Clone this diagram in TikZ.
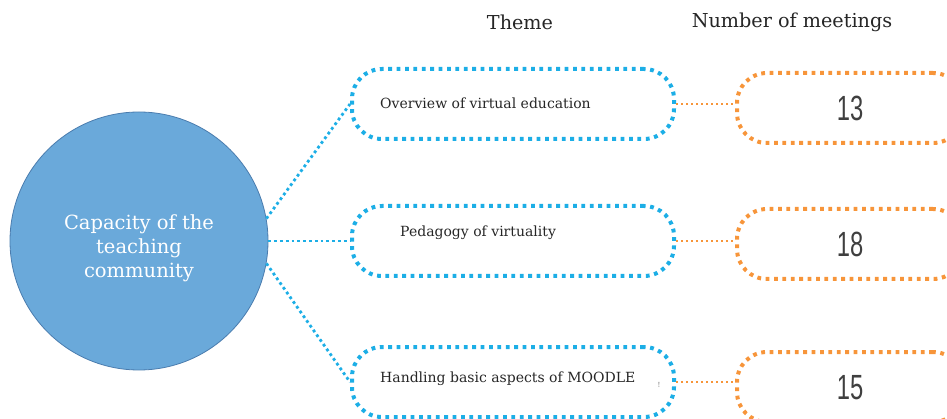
\documentclass[tikz,border=0pt]{standalone}
\usepackage{fontspec}
\setmainfont{DejaVu Serif}
\newfontfamily\numfont{Liberation Sans}
\usepackage{graphicx}
\definecolor{hubfill}{HTML}{6AA9DA}
\definecolor{hubline}{HTML}{4A7CAE}
\definecolor{themeblue}{HTML}{1CAEE6}
\definecolor{countorange}{HTML}{F7953A}
\definecolor{numgray}{HTML}{3F3F3F}
\begin{document}
\begin{tikzpicture}[x=1pt,y=-1pt,
  hub/.style={circle, draw=hubline, line width=0.8pt, fill=hubfill,
    minimum size=258pt, inner sep=0pt},
  hubtext/.style={text=white, font=\fontsize{19.5}{24}\selectfont, align=center},
  themebox/.style={draw=themeblue, line width=4pt, dash pattern=on 3.8pt off 4.6pt,
    rounded corners=30pt, minimum width=322pt, minimum height=70pt, inner sep=0pt},
  countbox/.style={draw=countorange, line width=4pt, dash pattern=on 3.8pt off 4.6pt,
    rounded corners=30pt, minimum width=226pt, minimum height=70pt, inner sep=0pt},
  themetext/.style={font=\fontsize{14}{17}\selectfont, text=black!85, inner sep=0pt},
  heading/.style={font=\fontsize{19.2}{23}\selectfont, text=black!85, inner sep=0pt},
  count/.style={font=\numfont\fontsize{35}{35}\selectfont, text=numgray, inner sep=0pt},
  bluelink/.style={draw=themeblue, line width=2.8pt, dash pattern=on 2.8pt off 3pt},
  orangelink/.style={draw=countorange, line width=2.4pt, dash pattern=on 2.4pt off 2.6pt}
]
\useasboundingbox (0,0) rectangle (947,419);
\clip (0,0) rectangle (947,419);

% column headings
\node[heading] (hTheme) at (520,22) {Theme};
\node[heading] (hCount) at (792,22) {Number of meetings};

% central circle
\node[hub] (hub) at (139,241) {};
\node[hubtext] (hubLabel) at (139,248) {Capacity of the\\teaching\\community};

% theme boxes
\node[themebox] (t1) at (513,104) {};
\node[themebox] (t2) at (513,241) {};
\node[themebox] (t3) at (513,382) {};
\node[themetext, anchor=west] (t1text) at (380,103) {Overview of virtual education};
\node[themetext, anchor=west] (t2text) at (400,233) {Pedagogy of virtuality};
\node[themetext, anchor=west] (t3text) at (380,379) {Handling basic aspects of MOODLE};
\node[font=\fontsize{7}{7}\selectfont, text=black!55, inner sep=0pt] (t3mark) at (659,385) {!};

% meeting-count boxes
\node[countbox] (c1) at (850,108) {};
\node[countbox] (c2) at (850,244) {};
\node[countbox] (c3) at (850,387) {};
\node[count] (c1text) at (850,108) {\scalebox{0.68}[1]{13}};
\node[count] (c2text) at (850,244) {\scalebox{0.68}[1]{18}};
\node[count] (c3text) at (850,388) {\scalebox{0.68}[1]{15}};

% hub to themes
\draw[bluelink] (hub.10) -- (t1.west);
\draw[bluelink] (hub.east) -- (t2.west);
\draw[bluelink] (hub.-10) -- (t3.west);

% themes to counts
\draw[orangelink] (t1.east) -- (c1.west |- t1.east);
\draw[orangelink] (t2.east) -- (c2.west |- t2.east);
\draw[orangelink] (t3.east) -- (c3.west |- t3.east);
\end{tikzpicture}
\end{document}
